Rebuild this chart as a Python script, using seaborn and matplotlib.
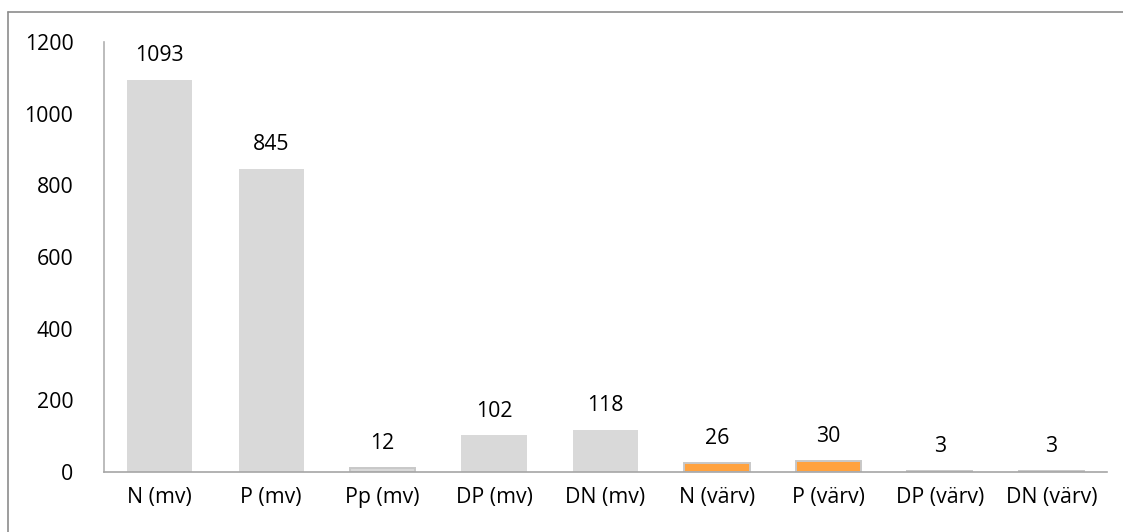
import matplotlib
matplotlib.use("Agg")
import matplotlib.pyplot as plt
import seaborn as sns
import pandas as pd
from matplotlib.lines import Line2D

categories = ["N (mv)", "P (mv)", "Pp (mv)", "DP (mv)", "DN (mv)",
              "N (värv)", "P (värv)", "DP (värv)", "DN (värv)"]
values = [1093, 845, 12, 102, 118, 26, 30, 3, 3]
groups = ["mv", "mv", "mv", "mv", "mv", "värv", "värv", "mv", "mv"]
yticks = [0, 200, 400, 600, 800, 1000, 1200]

palette = {"mv": "#D9D9D9", "värv": "#FFA23F"}

df = pd.DataFrame({"kategori": categories, "antal": values, "grupp": groups})

sns.set_theme(style="white")
plt.rcParams["font.family"] = ["Open Sans", "DejaVu Sans"]

fig = plt.figure(figsize=(11.23, 5.32), dpi=100)
ax = fig.add_axes([0.0926, 0.1128, 0.8932, 0.8082])

sns.barplot(data=df, x="kategori", y="antal", hue="grupp", palette=palette,
            dodge=False, width=0.585, saturation=1, legend=False, ax=ax)

for p in ax.patches:
    if p.get_height() < 40:
        # thin outline keeps the smallest bars visible
        p.set_edgecolor("#C8C8C8")
        p.set_linewidth(1.4)
    else:
        p.set_edgecolor("none")

for i, v in enumerate(values):
    ax.annotate(str(v), (i, v), xytext=(0, 10), textcoords="offset points",
                ha="center", va="bottom", fontsize=15.3, color="#000000")

ax.set_ylim(0, 1200)
ax.set_yticks(yticks)
ax.set_yticklabels([str(t) for t in yticks])
ax.set_xlim(-0.5, len(categories) - 0.5)
ax.set_xlabel("")
ax.set_ylabel("")
ax.tick_params(axis="both", length=0, labelsize=15.3, colors="#000000")
ax.tick_params(axis="y", pad=22)
ax.tick_params(axis="x", pad=11)

for s in ["top", "right"]:
    ax.spines[s].set_visible(False)
ax.spines["left"].set_color("#B0B0B0")
ax.spines["bottom"].set_color("#A6A6A6")
ax.spines["left"].set_linewidth(1.2)
ax.spines["bottom"].set_linewidth(1.2)

# outer chart frame (left and top edges)
x0, y0 = 8 / 1123, 1 - 12 / 532
fig.add_artist(Line2D([x0, x0], [0, y0], transform=fig.transFigure,
                      color="#8C8C8C", linewidth=1.2))
fig.add_artist(Line2D([x0, 1], [y0, y0], transform=fig.transFigure,
                      color="#8C8C8C", linewidth=1.2))

fig.savefig("out.png", dpi=100)
